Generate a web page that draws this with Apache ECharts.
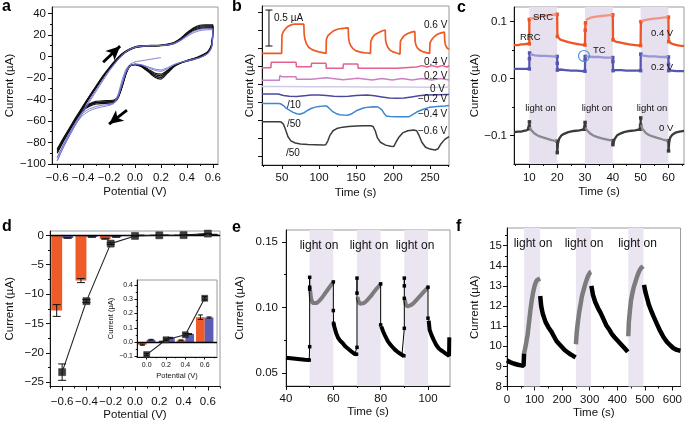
<!DOCTYPE html>
<html><head><meta charset="utf-8">
<script src="https://cdn.jsdelivr.net/npm/echarts@6/dist/echarts.min.js"></script>
<style>html,body{margin:0;padding:0;background:#fff}#c{width:685px;height:423px}</style>
</head><body><div id="c"></div>
<script>
// ================= DATA =================
// ---- panel a : cyclic voltammograms (potential V, current uA)
const aXTicks=[-0.6,-0.4,-0.2,0,0.2,0.4,0.6];
const aXMinor=[-0.5,-0.3,-0.1,0.1,0.3,0.5];
const aYTicks=[-100,-80,-60,-40,-20,0,20,40];
const aYMinor=[-90,-70,-50,-30,-10,10,30];
const aBlack1=[[-0.6,-86],[-0.55,-75.5],[-0.5,-65.5],[-0.45,-55.5],[-0.4,-46],[-0.35,-36.5],[-0.3,-27.5],[-0.25,-18.5],[-0.2,-10.5],[-0.15,-3.5],[-0.1,2.5],[-0.05,6.5],[0,9],[0.05,10],[0.1,10.2],[0.15,10.3],[0.2,10.6],[0.25,11.4],[0.3,13],[0.35,16.8],[0.4,22],[0.45,26.5],[0.5,29],[0.55,29.4],[0.6,29.5],
 [0.6,27],[0.598,19],[0.59,11],[0.57,6],[0.55,3.5],[0.5,0.3],[0.45,-2],[0.4,-3.8],[0.35,-6],[0.3,-9.5],[0.25,-15.5],[0.2,-21],[0.15,-19],[0.1,-14],[0.05,-9.5],[0,-7.5],[-0.04,-8.5],[-0.07,-15],[-0.1,-27],[-0.13,-37],[-0.16,-40.5],[-0.2,-41],[-0.25,-41.2],[-0.3,-41.8],[-0.35,-44],[-0.4,-48],[-0.45,-55.5],[-0.5,-65.5],[-0.55,-75.5],[-0.6,-86]];
const aBlack2=[[-0.6,-87.5],[-0.55,-76.5],[-0.5,-66.5],[-0.45,-56.5],[-0.4,-46.5],[-0.35,-37],[-0.3,-28],[-0.25,-19],[-0.2,-11],[-0.15,-4],[-0.1,2],[-0.05,6.2],[0,8.7],[0.05,9.7],[0.1,10],[0.15,10.1],[0.2,10.4],[0.25,11.1],[0.3,12.7],[0.35,16.3],[0.4,21.4],[0.45,25.8],[0.5,28.1],[0.55,28.4],[0.6,28.5],
 [0.6,26.3],[0.598,18.3],[0.59,10.4],[0.57,5.4],[0.55,2.9],[0.5,-0.2],[0.45,-2.3],[0.4,-4],[0.35,-6],[0.3,-9.2],[0.25,-14.6],[0.2,-19.5],[0.15,-17.8],[0.1,-13.3],[0.05,-9.2],[0,-7.5],[-0.04,-8.8],[-0.07,-15.5],[-0.1,-27.5],[-0.13,-37.5],[-0.16,-41.3],[-0.2,-42],[-0.25,-42.2],[-0.3,-42.7],[-0.35,-44.7],[-0.4,-48.7],[-0.45,-56.3],[-0.5,-66.5],[-0.55,-76.5],[-0.6,-87.5]];
const aBlack3=[[-0.6,-88.5],[-0.55,-77.5],[-0.5,-67],[-0.45,-57],[-0.4,-47],[-0.35,-37.5],[-0.3,-28.5],[-0.25,-19.5],[-0.2,-11.5],[-0.15,-4.5],[-0.1,1.6],[-0.05,5.8],[0,8.4],[0.05,9.4],[0.1,9.7],[0.15,9.9],[0.2,10.2],[0.25,10.8],[0.3,12.3],[0.35,15.8],[0.4,20.7],[0.45,25],[0.5,27.2],[0.55,27.5],[0.6,27.5],
 [0.6,25.5],[0.598,17.6],[0.59,9.8],[0.57,4.9],[0.55,2.4],[0.5,-0.6],[0.45,-2.6],[0.4,-4.2],[0.35,-6.1],[0.3,-8.9],[0.25,-13.8],[0.2,-18],[0.15,-16.6],[0.1,-12.6],[0.05,-8.9],[0,-7.4],[-0.04,-9],[-0.07,-16],[-0.1,-28],[-0.13,-38],[-0.16,-41.8],[-0.2,-42.5],[-0.25,-42.7],[-0.3,-43.2],[-0.35,-45.3],[-0.4,-49.3],[-0.45,-57],[-0.5,-67],[-0.55,-77.5],[-0.6,-88.5]];
const aBlack4=[[-0.6,-90],[-0.55,-78.5],[-0.5,-68],[-0.45,-58],[-0.4,-48],[-0.35,-38.3],[-0.3,-29.2],[-0.25,-20.2],[-0.2,-12],[-0.15,-5],[-0.1,1.2],[-0.05,5.5],[0,8.1],[0.05,9.1],[0.1,9.5],[0.15,9.7],[0.2,10],[0.25,10.5],[0.3,11.9],[0.35,15.2],[0.4,20],[0.45,24.1],[0.5,26.2],[0.55,26.5],[0.6,26.5],
 [0.6,24.5],[0.598,16.8],[0.59,9.2],[0.57,4.4],[0.55,2],[0.5,-1],[0.45,-2.9],[0.4,-4.4],[0.35,-6.2],[0.3,-8.6],[0.25,-12.9],[0.2,-16.5],[0.15,-15.4],[0.1,-11.8],[0.05,-8.5],[0,-7.3],[-0.04,-9.2],[-0.07,-16.5],[-0.1,-28.6],[-0.13,-38.6],[-0.16,-42.6],[-0.2,-43.5],[-0.25,-43.8],[-0.3,-44.2],[-0.35,-46.2],[-0.4,-50.2],[-0.45,-58],[-0.5,-68],[-0.55,-78.5],[-0.6,-90]];
const aPurple1=[[-0.6,-97],[-0.55,-84],[-0.5,-72.5],[-0.45,-62],[-0.4,-52],[-0.35,-42],[-0.3,-32.5],[-0.25,-23],[-0.2,-14],[-0.15,-6],[-0.1,1],[-0.05,6],[0,8.6],[0.05,9.6],[0.1,9.8],[0.15,10],[0.2,10.2],[0.25,10.7],[0.3,11.8],[0.35,14.6],[0.4,18.5],[0.45,22],[0.5,24],[0.55,24.8],[0.6,25],
 [0.6,22.5],[0.598,15],[0.59,8],[0.57,3.8],[0.55,1.8],[0.5,-1.2],[0.45,-2.8],[0.4,-4.2],[0.35,-5.6],[0.3,-7.5],[0.25,-10.5],[0.2,-12.5],[0.15,-11.6],[0.1,-9.6],[0.05,-7.6],[0,-7],[-0.04,-8.8],[-0.07,-14.5],[-0.1,-25.5],[-0.13,-37],[-0.16,-43.5],[-0.2,-45.5],[-0.25,-46.8],[-0.3,-48.2],[-0.35,-50.5],[-0.4,-54.5],[-0.45,-61.5],[-0.5,-72.5],[-0.55,-84],[-0.6,-97]];
const aPurple2=[[-0.6,-94],[-0.55,-81.5],[-0.5,-70.5],[-0.45,-60],[-0.4,-50],[-0.35,-40.5],[-0.3,-31],[-0.25,-21.8],[-0.2,-13],[-0.15,-5.5],[-0.1,1.3],[-0.05,6],[0,8.6],[0.05,9.6],[0.1,9.9],[0.15,10],[0.2,10.3],[0.25,10.9],[0.3,12.2],[0.35,15.3],[0.4,19.6],[0.45,23.3],[0.5,25.3],[0.55,25.9],[0.6,26],
 [0.6,23.5],[0.598,15.8],[0.59,8.6],[0.57,4.2],[0.55,2.1],[0.5,-1],[0.45,-2.6],[0.4,-4],[0.35,-5.6],[0.3,-7.9],[0.25,-11.4],[0.2,-13.8],[0.15,-12.8],[0.1,-10.3],[0.05,-8],[0,-7.2],[-0.04,-8.9],[-0.07,-14.8],[-0.1,-26],[-0.13,-37.5],[-0.16,-43],[-0.2,-44.5],[-0.25,-45.3],[-0.3,-46.5],[-0.35,-48.7],[-0.4,-52.5],[-0.45,-60],[-0.5,-70.5],[-0.55,-81.5],[-0.6,-94]];
const aPurpleStart=[[0.2,-1],[0.15,-2],[0.1,-3],[0.05,-4],[0,-5],[-0.04,-7.5],[-0.07,-12],[-0.1,-22],[-0.13,-35],[-0.16,-42.5],[-0.2,-45]];
const aArrows=[[[-0.246,-5.3],[-0.115,9.6]],[[-0.062,-49.9],[-0.2,-62.9]]];

// ---- panel b : transients (time s, relative current uA)
const bXTicks=[50,100,150,200,250];
const bXMinor=[25,75,125,175,225,275];
const bYTicks=[0,0.25,0.5,0.75,1,1.25,1.5,1.75,2];
const bScaleBar=[[32.4,2.037],[32.4,1.537]];
const b06=[[23,1.435],[30,1.435],[40,1.435],[49.5,1.435],[50,1.69],[52,1.74],[55,1.78],[58,1.81],[62,1.83],[66,1.84],[70,1.84],[75,1.84],[79.5,1.84],[80,1.7],[81,1.63],[83,1.57],[86,1.52],[90,1.49],[95,1.47],[100,1.455],[105,1.445],[109.5,1.435],[110,1.63],[112,1.68],[115,1.71],[120,1.75],[125,1.77],[130,1.78],[135,1.785],[139.5,1.79],[140,1.65],[141,1.59],[143,1.54],[146,1.5],[150,1.47],[155,1.455],[160,1.445],[165,1.44],[169.5,1.435],[170,1.6],[172,1.65],[175,1.69],[180,1.72],[185,1.745],[189.5,1.76],[190,1.62],[191,1.57],[193,1.52],[196,1.48],[200,1.455],[205,1.44],[209.5,1.425],[210,1.6],[212,1.64],[215,1.68],[220,1.71],[225,1.73],[229.5,1.74],[230,1.6],[231,1.55],[233,1.51],[236,1.48],[240,1.46],[245,1.445],[249.5,1.435],[250,1.58],[252,1.62],[255,1.66],[260,1.7],[265,1.72],[269.5,1.73],[270,1.6],[271,1.55],[273,1.51],[275.7,1.49]];
const b04=[[23,1.236],[35,1.236],[35.5,1.31],[69,1.31],[69.5,1.25],[89.5,1.25],[90,1.296],[109.5,1.296],[110,1.227],[132.5,1.227],[133,1.287],[152.5,1.287],[153,1.227],[205,1.227],[205.5,1.245],[232,1.245],[232.5,1.265],[239,1.265],[239.5,1.245],[246,1.245],[246.5,1.265],[253,1.265],[253.5,1.245],[260,1.245],[260.5,1.265],[266.5,1.265],[267,1.245],[273,1.245],[273.5,1.265],[275.7,1.265]];
const b02=[[23,1.06],[46.5,1.06],[47,1.125],[50,1.11],[69,1.11],[69.5,1.075],[89.5,1.075],[90,1.095],[109.5,1.095],[110,1.07],[132.5,1.07],[133,1.09],[152.5,1.09],[153,1.065],[172,1.065],[172.5,1.085],[185,1.085],[185.5,1.065],[199,1.065],[199.5,1.085],[212,1.085],[212.5,1.065],[226,1.065],[226.5,1.085],[239,1.085],[239.5,1.065],[252,1.065],[252.5,1.085],[265,1.085],[265.5,1.065],[275.7,1.065]];
const b00=[[23,0.975],[50,0.975],[50.2,0.99],[50.6,0.972],[90,0.972],[90.2,0.985],[90.6,0.97],[130,0.97],[130.2,0.982],[130.6,0.968],[170,0.968],[170.2,0.98],[170.6,0.966],[210,0.966],[210.2,0.978],[210.6,0.965],[250,0.965],[250.2,0.976],[250.6,0.965],[275.7,0.965]];
const bm02=[[23,0.87],[45,0.87],[52,0.85],[60,0.838],[70,0.835],[80,0.845],[90,0.855],[100,0.855],[110,0.85],[120,0.838],[130,0.835],[140,0.84],[150,0.85],[165,0.855],[175,0.845],[185,0.83],[195,0.815],[205,0.812],[215,0.815],[225,0.83],[235,0.845],[245,0.855],[260,0.86],[275.7,0.865]];
const bm04=[[23,0.74],[45,0.74],[48,0.735],[52,0.71],[56,0.67],[60,0.645],[65,0.615],[70,0.595],[74,0.588],[80,0.61],[85,0.645],[90,0.672],[95,0.688],[100,0.697],[105,0.702],[110,0.705],[113,0.68],[118,0.63],[123,0.6],[128,0.582],[133,0.578],[139,0.576],[145,0.6],[152,0.645],[160,0.675],[167,0.688],[173,0.694],[180,0.69],[185,0.65],[188,0.6],[191,0.566],[196,0.558],[205,0.556],[215,0.556],[222,0.556],[226,0.58],[232,0.62],[240,0.655],[249,0.685],[260,0.697],[270,0.705],[275.7,0.71]];
const bm06=[[23,0.486],[45,0.486],[49,0.48],[52,0.45],[55,0.37],[58,0.28],[62,0.22],[68,0.19],[75,0.175],[85,0.168],[95,0.165],[105,0.162],[109,0.165],[112,0.22],[115,0.3],[119,0.36],[124,0.39],[132,0.41],[140,0.42],[150,0.426],[160,0.428],[170,0.428],[173,0.42],[176,0.36],[179,0.26],[183,0.2],[190,0.16],[197,0.145],[201,0.14],[204,0.2],[208,0.27],[213,0.33],[220,0.36],[228,0.37],[232,0.36],[235,0.3],[239,0.2],[244,0.13],[250,0.105],[257,0.093],[261,0.11],[265,0.18],[270,0.24],[275.7,0.278]];

// ---- panel c : dark / light segments (alternating, starting dark)
const cXTicks=[10,20,30,40,50,60];
const cXMinor=[5,15,25,35,45,55,65];
const cYTicks=[-0.1,0,0.1];
const cYMinor=[-0.05,0.05];
const cBands=[[10,20],[30,40],[50,60]];
const c04=[
 [[4.5,0.059],[6,0.059],[7,0.06],[8,0.06],[9,0.061],[10,0.061],[10,0.104]],
 [[10.2,0.105],[11,0.106],[12,0.107],[14,0.109],[16,0.111],[18,0.112],[19.8,0.113]],
 [[20,0.113],[20.1,0.074],[20.5,0.071],[21,0.069],[22,0.067],[24,0.064],[26,0.062],[28,0.06],[30,0.059],[30.1,0.085],[30.2,0.098]],
 [[30.4,0.103],[31,0.105],[32,0.107],[34,0.109],[36,0.11],[38,0.111],[39.8,0.112]],
 [[40,0.112],[40.1,0.068],[40.5,0.066],[41,0.065],[42,0.064],[44,0.062],[46,0.06],[48,0.059],[50,0.058],[50.1,0.1]],
 [[50.3,0.101],[51,0.102],[52,0.103],[54,0.105],[56,0.106],[58,0.107],[59.8,0.108]],
 [[60,0.108],[60.1,0.065],[60.5,0.063],[61,0.062],[62,0.06],[63,0.059],[64,0.058],[65.6,0.057]]];
const c02=[
 [[4.5,0.017],[7,0.017],[9,0.017],[10,0.017],[10.05,0.035],[10.1,0.045]],
 [[10.3,0.043],[11,0.042],[12,0.041],[14,0.04],[16,0.04],[18,0.039],[19.8,0.039]],
 [[20,0.039],[20.05,0.027],[20.1,0.015],[20.5,0.016],[21,0.016],[23,0.015],[25,0.014],[27,0.014],[29,0.013],[30,0.013],[30.05,0.033],[30.1,0.039]],
 [[30.3,0.039],[31,0.039],[33,0.038],[35,0.038],[37,0.037],[39.8,0.037]],
 [[40,0.037],[40.05,0.03],[40.1,0.014],[41,0.015],[43,0.015],[45,0.014],[47,0.014],[49,0.014],[50,0.014],[50.05,0.043]],
 [[50.3,0.041],[51,0.04],[53,0.039],[55,0.039],[57,0.038],[59.8,0.038]],
 [[60,0.038],[60.05,0.025],[60.1,0.014],[61,0.014],[63,0.013],[65.6,0.013]]];
const c00=[
 [[4.5,-0.094],[6,-0.093],[7,-0.093],[8,-0.092],[9,-0.091],[9.8,-0.088],[10,-0.084],[10.05,-0.076]],
 [[10.2,-0.085],[10.6,-0.09],[11,-0.093],[12,-0.097],[13,-0.1],[14,-0.102],[16,-0.105],[18,-0.108],[19.8,-0.11]],
 [[20,-0.11],[20.05,-0.13],[20.3,-0.114],[20.7,-0.106],[21.5,-0.1],[22.5,-0.097],[24,-0.094],[26,-0.092],[28,-0.091],[29.8,-0.089],[30,-0.084],[30.05,-0.077]],
 [[30.2,-0.086],[30.6,-0.09],[31,-0.093],[32,-0.097],[33,-0.1],[34,-0.102],[36,-0.105],[38,-0.107],[39.8,-0.109]],
 [[40,-0.109],[40.05,-0.116],[40.3,-0.112],[40.7,-0.106],[41.5,-0.1],[42.5,-0.097],[44,-0.094],[46,-0.092],[48,-0.091],[49.8,-0.089],[50,-0.082],[50.05,-0.069]],
 [[50.2,-0.081],[50.6,-0.088],[51,-0.091],[52,-0.096],[53,-0.099],[54,-0.101],[56,-0.104],[58,-0.107],[59.8,-0.109]],
 [[60,-0.109],[60.05,-0.127],[60.3,-0.11],[60.7,-0.103],[61.5,-0.098],[62.5,-0.095],[64,-0.093],[65.6,-0.092]]];

// ---- panel d : photocurrent vs potential
const dXTicks=[-0.6,-0.4,-0.2,0,0.2,0.4,0.6];
const dXMinor=[-0.7,-0.5,-0.3,-0.1,0.1,0.3,0.5,0.7];
const dYTicks=[-25,-20,-15,-10,-5,0];
const dYMinor=[-22.5,-17.5,-12.5,-7.5,-2.5];
const dPot=[-0.6,-0.4,-0.2,0,0.2,0.4,0.6];
const dSquare=[-23.3,-11.2,-1.4,-0.088,0.016,0.051,0.307];
const dSquareErr=[1.4,0.25,0.15,0.008,0.005,0.008,0.012];
const dOrange=[-12.8,-7.7,-0.57,-0.019,0.003,0.012,0.174];
const dOrangeErr=[1.0,0.35,0.08,0.004,0.003,0.003,0.016];
const dBlue=[-0.45,-0.28,-0.28,0.016,0.03,0.056,0.172];
const dBlueErr=[0.04,0.03,0.03,0.003,0.003,0.003,0.004];
const diXTicks=[0,0.2,0.4,0.6];
const diXMinor=[0.1,0.3,0.5,0.7];
const diYTicks=[-0.1,0,0.1,0.2,0.3,0.4];
const diYMinor=[-0.05,0.05,0.15,0.25,0.35];

// ---- panel e
const eXTicks=[40,60,80,100];
const eXMinor=[50,70,90];
const eYTicks=[0.05,0.1,0.15];
const eYMinor=[0.075,0.125];
const eBands=[[50,60],[70,80],[90,100]];
const eCur=[
 [[40,0.0618],[42,0.0615],[44,0.0611],[46,0.0607],[48,0.0603],[49.8,0.06],[50,0.0702],[50,0.1155],[50,0.123],[50,0.114]],
 [[50.2,0.113],[50.6,0.107],[51.2,0.1035],[52,0.1028],[53,0.1035],[54,0.105],[55,0.107],[56,0.1095],[57,0.112],[58,0.1145],[59,0.117],[59.8,0.1188]],
 [[60,0.1195],[60,0.0977],[60.1,0.088],[60.5,0.085],[61.2,0.0804],[62,0.077],[63,0.0745],[64,0.0728],[65,0.0705],[66,0.069],[66.8,0.0677],[68,0.066],[69.1,0.0646],[69.8,0.0645],[70,0.0697],[70,0.1224],[70,0.111]],
 [[70.2,0.108],[70.6,0.105],[71.2,0.1028],[72,0.1027],[73,0.1035],[74,0.105],[75,0.107],[76,0.109],[77,0.1115],[78,0.1138],[79,0.1158],[79.8,0.1175]],
 [[80,0.118],[80,0.0868],[80.3,0.0855],[81,0.082],[82,0.078],[83,0.0745],[84,0.072],[85,0.07],[86,0.068],[87,0.0665],[88,0.0652],[89,0.064],[89.8,0.0633],[90,0.0842],[90,0.107],[90,0.1224],[90,0.1165]],
 [[90.2,0.106],[90.6,0.1025],[91.3,0.1008],[92,0.101],[93,0.102],[94,0.1035],[95,0.1055],[96,0.1075],[97,0.1095],[98,0.1115],[99,0.1135],[99.8,0.115]],
 [[100,0.1155],[100,0.0919],[100.3,0.09],[100.7,0.083],[101.5,0.079],[102.5,0.075],[103.5,0.0715],[104.5,0.069],[105.5,0.0675],[106.4,0.0664],[107.5,0.065],[108.9,0.0633],[109,0.0773]]];

// ---- panel f
const fXTicks=[0,100,200,300,400,500,600];
const fXMinor=[50,150,250,350,450,550];
const fYTicks=[8,9,10,11,12,13,14,15];
const fYMinor=[8.5,9.5,10.5,11.5,12.5,13.5,14.5,15.5];
const fBands=[[62,120],[250,305],[440,495]];
const fCur=[
 [[0,9.3],[10,9.22],[20,9.16],[30,9.12],[40,9.08],[50,9.05],[60,9.03],[62,9.65]],
 [[62,9.65],[66,9.9],[70,10.2],[75,10.6],[80,11.2],[85,11.8],[90,12.3],[95,12.7],[100,13.0],[105,13.2],[110,13.3],[115,13.35],[120,13.37]],
 [[120.5,12.5],[124,12.0],[130,11.6],[140,11.2],[150,10.95],[160,10.75],[170,10.5],[180,10.25],[190,10.1],[200,9.95],[210,9.8],[220,9.7],[230,9.6],[240,9.52],[249,9.45]],
 [[250,10.1],[253,10.7],[257,11.2],[262,11.7],[267,12.1],[272,12.5],[278,12.8],[284,13.1],[290,13.35],[296,13.55],[302,13.68],[305,13.7]],
 [[306,13.0],[312,12.55],[320,12.2],[330,11.9],[340,11.65],[350,11.35],[360,11.05],[370,10.85],[380,10.62],[390,10.45],[400,10.3],[410,10.15],[420,10.0],[430,9.85],[438,9.72]],
 [[440,10.5],[442,11.2],[446,11.8],[450,12.3],[455,12.65],[460,12.95],[467,13.25],[474,13.55],[480,13.75],[487,13.9],[494,13.98],[496,14.0]],
 [[497,13.05],[502,12.7],[508,12.4],[515,12.05],[522,11.8],[532,11.47],[544,11.1],[556,10.75],[568,10.45],[580,10.22],[592,10.05],[604,9.9],[616,9.82],[629,9.78]]];

// ================= BUILD =================
const F='"Liberation Sans", Arial, Helvetica, sans-serif';
const TXT='#111';
const grids=[],xAxes=[],yAxes=[],series=[],graphics=[];
function addGrid(l,t,w,h,bg){grids.push({left:l,top:t,width:w,height:h,show:true,borderColor:'#9a9a9a',borderWidth:1,backgroundColor:bg||'transparent'});return grids.length-1;}
function fmt(d){return v=>(v<0?'\u2212':'')+Math.abs(v).toFixed(d);}
function addAxis(list,dim,gi,o){
  const pos=dim==='x'?'bottom':'left';
  const tl=o.tl||4;
  list.push({type:'value',gridIndex:gi,min:o.min,max:o.max,position:pos,
    axisLine:{show:true,onZero:false,lineStyle:{color:'#111',width:1}},
    axisTick:{show:true,inside:false,length:tl,customValues:o.major,lineStyle:{color:'#111',width:1}},
    axisLabel:{show:o.labels!==false,customValues:o.major,formatter:o.fmt,fontSize:o.fs||11.5,fontFamily:F,color:TXT,margin:o.margin==null?6:o.margin},
    splitLine:{show:false},
    name:o.name||'',nameLocation:'middle',nameGap:o.gap||20,nameTextStyle:{fontSize:o.nfs||11.5,fontFamily:F,color:TXT}});
  const idx=list.length-1;
  if(o.minor){list.push({type:'value',gridIndex:gi,min:o.min,max:o.max,position:pos,
    axisLine:{show:false,onZero:false},axisTick:{show:true,inside:false,length:tl/2,customValues:o.minor,lineStyle:{color:'#111',width:1}},
    axisLabel:{show:false},splitLine:{show:false}});}
  return idx;
}
function line(xi,yi,data,color,width,extra){const s=Object.assign({type:'line',xAxisIndex:xi,yAxisIndex:yi,data:data,symbol:'none',smooth:false,lineStyle:{color:color,width:width},silent:true,z:3},extra||{});series.push(s);return s;}
function bandArea(bands,color){return {silent:true,itemStyle:{color:color},label:{show:false},data:bands.map(b=>[{xAxis:b[0]},{xAxis:b[1]}])};}
function nearEdge(t,bands,thr){return bands.some(b=>Math.abs(t-b[0])<=thr||Math.abs(t-b[1])<=thr);}
function T(text,x,y,size,opt){opt=opt||{};graphics.push({type:'text',x:x,y:y,z:100,silent:true,style:{text:text,fontSize:size,fontFamily:F,fontWeight:opt.bold?'bold':'normal',fill:opt.color||TXT,align:opt.align||'left',verticalAlign:'middle'}});}

// ----- a
const gA=addGrid(52,7,166,157);
const xa=addAxis(xAxes,'x',gA,{min:-0.64,max:0.64,major:aXTicks,minor:aXMinor,fmt:fmt(1),name:'Potential (V)',gap:22,margin:8});
const ya=addAxis(yAxes,'y',gA,{min:-100,max:46,major:aYTicks,minor:aYMinor,fmt:fmt(0),name:'Current (\u00b5A)',gap:35,margin:6});
[aBlack4,aBlack3,aBlack2,aBlack1].forEach(d=>line(xa,ya,d,'#111',1.2,{smooth:0.2}));
[aPurple1,aPurple2,aPurpleStart].forEach(d=>line(xa,ya,d,'#6e6ed2',0.9,{smooth:0.2,z:4}));
line(xa,ya,[aArrows[0][0]],'#000',0,{z:6,markLine:{silent:true,symbol:['none','arrow'],symbolSize:[10,14],label:{show:false},lineStyle:{color:'#000',width:2.8,type:'solid'},data:aArrows.map(a=>[{coord:a[0]},{coord:a[1]}])}});

// ----- b
const gB=addGrid(262,6,187,159);
const xb=addAxis(xAxes,'x',gB,{min:23,max:275.7,major:bXTicks,minor:bXMinor,fmt:fmt(0),name:'Time (s)',gap:22,margin:7});
const yb=addAxis(yAxes,'y',gB,{min:-0.116,max:2.093,major:bYTicks,labels:false,name:'Current (\u00b5A)',gap:6});
line(xb,yb,bm06,'#3b3b3b',1.5);
line(xb,yb,bm04,'#3d87d4',1.5);
line(xb,yb,bm02,'#4c489e',1.5);
line(xb,yb,b00,'#cfcbe9',1.5);
line(xb,yb,b02,'#cc80c6',1.5);
line(xb,yb,b04,'#e65f8e',1.5);
line(xb,yb,b06,'#ef5a24',1.7);
line(xb,yb,bScaleBar,'#111',1,{symbol:'rect',symbolSize:[7,1],showSymbol:true,itemStyle:{color:'#111'}});

// ----- c
const gC=addGrid(514,7,170,157);
const xc=addAxis(xAxes,'x',gC,{min:4.5,max:65.6,major:cXTicks,minor:cXMinor,fmt:fmt(0),name:'Time (s)',gap:22,margin:8});
const yc=addAxis(yAxes,'y',gC,{min:-0.15,max:0.1258,major:cYTicks,minor:cYMinor,fmt:fmt(1),name:'Current (\u00b5A)',gap:33,margin:7});
function cTrace(segs,dark,light,first){
  segs.forEach((pts,k)=>{
    const isL=k%2===1;
    const s=line(xc,yc,pts,isL?light:dark,2.3,{symbol:'rect',showSymbol:true,showAllSymbol:true,itemStyle:{color:dark},
      symbolSize:v=>(!isL&&nearEdge(v[0],cBands,0.25))?3.5:0,z:isL?4:3});
    if(first&&k===0)s.markArea=bandArea(cBands,'#e7e1ef');
  });
}
cTrace(c00,'#3a3a3a','#8a8a8a',true);
cTrace(c02,'#5656b2','#9898d6',false);
cTrace(c04,'#ee5424','#f29384',false);

// ----- d
const gD=addGrid(50,231,170,155.5);
const xd=addAxis(xAxes,'x',gD,{min:-0.7,max:0.7,major:dXTicks,minor:dXMinor,fmt:fmt(1),name:'Potential (V)',gap:22,margin:9});
const yd=addAxis(yAxes,'y',gD,{min:-25.75,max:0.75,major:dYTicks,minor:dYMinor,fmt:fmt(0),name:'Current (\u00b5A)',gap:34,margin:6});
function bars(xi,yi,xs,ys,o0,o1,color){
  series.push({type:'custom',xAxisIndex:xi,yAxisIndex:yi,clip:true,silent:true,z:2,data:xs.map((x,i)=>[x,ys[i]]),
    renderItem:(p,api)=>{const x=api.value(0),y=api.value(1);const a=api.coord([x+o0,0]),b=api.coord([x+o1,y]);
      return {type:'rect',shape:{x:Math.min(a[0],b[0]),y:Math.min(a[1],b[1]),width:Math.abs(b[0]-a[0]),height:Math.max(Math.abs(b[1]-a[1]),0.6)},style:{fill:color}};}});
}
function errs(xi,yi,xs,ys,es,off,cap){
  series.push({type:'custom',xAxisIndex:xi,yAxisIndex:yi,clip:true,silent:true,z:7,data:xs.map((x,i)=>[x+off,ys[i],es[i]]),
    renderItem:(p,api)=>{const x=api.value(0),y=api.value(1),e=api.value(2);const hi=api.coord([x,y+e]),lo=api.coord([x,y-e]);
      const st={stroke:'#111',lineWidth:1};
      return {type:'group',children:[
        {type:'line',shape:{x1:hi[0],y1:hi[1],x2:lo[0],y2:lo[1]},style:st},
        {type:'line',shape:{x1:hi[0]-cap,y1:hi[1],x2:hi[0]+cap,y2:hi[1]},style:st},
        {type:'line',shape:{x1:lo[0]-cap,y1:lo[1],x2:lo[0]+cap,y2:lo[1]},style:st}]};}});
}
function dPanel(xi,yi,xs,sq,sqE,orr,orE,bl,blE,ssize,cap){
  bars(xi,yi,xs,orr,-0.09,0,'#ee5a28');
  bars(xi,yi,xs,bl,0,0.09,'#5b5cb3');
  errs(xi,yi,xs,orr,orE,-0.045,cap);
  errs(xi,yi,xs,bl,blE,0.045,cap);
  errs(xi,yi,xs,sq,sqE,0,cap);
  line(xi,yi,xs.map((x,i)=>[x,sq[i]]),'#222',1.1,{symbol:'rect',symbolSize:ssize,showSymbol:true,itemStyle:{color:'#3e3e3e',borderColor:'#222',borderWidth:0.5},z:6,
    markLine:{silent:true,symbol:'none',label:{show:false},lineStyle:{color:'#000',width:1.4,type:'solid'},data:[{yAxis:0}]}});
}
dPanel(xd,yd,dPot,dSquare,dSquareErr,dOrange,dOrangeErr,dBlue,dBlueErr,7,4);
const gDi=addGrid(137,280,80,77,'#fff');
const xdi=addAxis(xAxes,'x',gDi,{min:-0.1,max:0.727,major:diXTicks,minor:diXMinor,fmt:fmt(1),fs:7,tl:2.5,name:'Potential (V)',nfs:7.5,gap:15,margin:5});
const ydi=addAxis(yAxes,'y',gDi,{min:-0.105,max:0.435,major:diYTicks,minor:diYMinor,fmt:fmt(1),fs:7,tl:2.5,name:'Current (\u00b5A)',nfs:7.5,gap:22,margin:4});
const iIdx=dPot.map((x,i)=>i).filter(i=>dPot[i]>=0);
const pick=arr=>iIdx.map(i=>arr[i]);
dPanel(xdi,ydi,pick(dPot),pick(dSquare),pick(dSquareErr),pick(dOrange),pick(dOrangeErr),pick(dBlue),pick(dBlueErr),6,2.5);

// ----- e
const gE=addGrid(286,230,164,156);
const xe=addAxis(xAxes,'x',gE,{min:40,max:109.3,major:eXTicks,minor:eXMinor,fmt:fmt(0),name:'Time (s)',gap:19,margin:7});
const ye=addAxis(yAxes,'y',gE,{min:0.0403,max:0.159,major:eYTicks,minor:eYMinor,fmt:fmt(2),name:'Current (\u00b5A)',gap:40,margin:8});
eCur.forEach((pts,k)=>{
  const isL=k%2===1;
  const thin=line(xe,ye,pts,isL?'#7c7c7c':'#000',1,{symbol:'rect',showSymbol:true,showAllSymbol:true,itemStyle:{color:'#000'},
    symbolSize:v=>(!isL&&nearEdge(v[0],eBands,0.25))?3.5:0,z:5});
  if(k===0)thin.markArea=bandArea(eBands,'#ebe5f2');
  line(xe,ye,pts.filter(p=>isL||!nearEdge(p[0],eBands,0.05)),isL?'#7c7c7c':'#000',4,{z:4});
});

// ----- f
const gF=addGrid(507,228,176,158.5);
const xf=addAxis(xAxes,'x',gF,{min:0,max:629.5,major:fXTicks,minor:fXMinor,fmt:fmt(0),name:'Time (s)',gap:18,margin:7});
const yf=addAxis(yAxes,'y',gF,{min:8,max:15.88,major:fYTicks,minor:fYMinor,fmt:fmt(0),name:'Current (\u00b5A)',gap:26,margin:5});
fCur.forEach((pts,k)=>{
  const isL=k%2===1;
  const s=line(xf,yf,pts,isL?'#7c7c7c':'#000',4.5,{z:4});
  if(k===0)s.markArea=bandArea(fBands,'#ebe5f2');
});

// ----- annotations
T('a',2,7,16,{bold:true,color:'#000'});
T('b',232,7,16,{bold:true,color:'#000'});
T('c',457,8,16,{bold:true,color:'#000'});
T('d',2,227,16,{bold:true,color:'#000'});
T('e',232,228,16,{bold:true,color:'#000'});
T('f',456,227,16,{bold:true,color:'#000'});
T('0.5 \u00b5A',274,18,10);
T('0.6 V',424,25,10);T('0.4 V',424,62,10);T('0.2 V',424,76,10);T('0 V',430,89,10);
T('\u22120.2 V',418,99,10);T('\u22120.4 V',418,114,10);T('\u22120.6 V',418,131,10);
T('/10',287,105,10);T('/50',287,124,10);T('/50',286,153,10);
T('SRC',533,17,9.5);T('RRC',520,37.5,9.5);T('0.4 V',651,33,9.5);T('TC',593,50,9.5);T('0.2 V',651,67,9.5);T('0 V',659,128,9.5);
T('light on',540.5,108,9.5,{align:'center'});T('light on',597,108,9.5,{align:'center'});T('light on',652,108,9.5,{align:'center'});
graphics.push({type:'circle',z:100,silent:true,shape:{cx:584,cy:56,r:5.5},style:{fill:'none',stroke:'#4a8fd6',lineWidth:1.2}});
T('light on',319,245.5,12,{align:'center'});T('light on',369,245.5,12,{align:'center'});T('light on',415,245.5,12,{align:'center'});
T('light on',533,244,12,{align:'center'});T('light on',584,244,12,{align:'center'});T('light on',637.5,244,12,{align:'center'});

const chart=echarts.init(document.getElementById('c'),null,{renderer:'canvas',width:685,height:423});
chart.setOption({animation:false,backgroundColor:'#fff',grid:grids,xAxis:xAxes,yAxis:yAxes,series:series,graphic:graphics});
</script></body></html>
